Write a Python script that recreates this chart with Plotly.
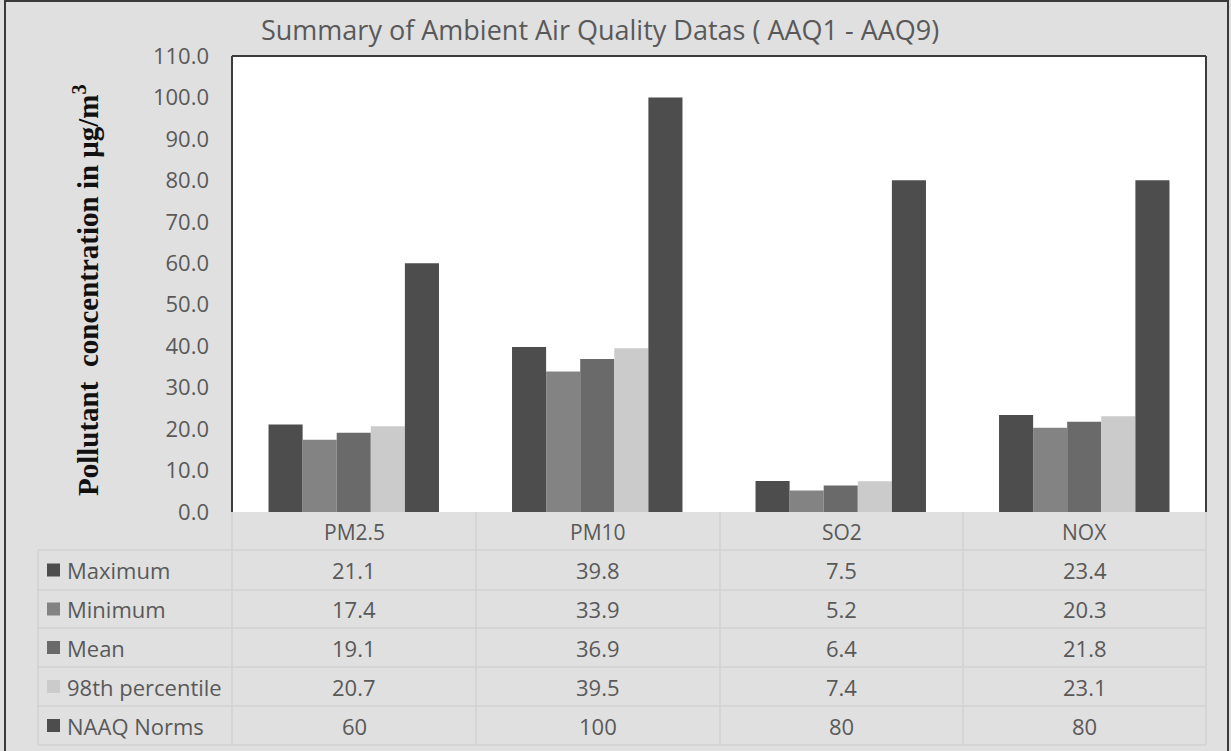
import plotly.graph_objects as go

categories = ["PM2.5", "PM10", "SO2", "NOX"]
series_names = ["Maximum", "Minimum", "Mean", "98th percentile", "NAAQ Norms"]
maximum = [21.1, 39.8, 7.5, 23.4]
minimum = [17.4, 33.9, 5.2, 20.3]
mean = [19.1, 36.9, 6.4, 21.8]
p98 = [20.7, 39.5, 7.4, 23.1]
naaq = [60, 100, 80, 80]
y_ticks = [0, 10, 20, 30, 40, 50, 60, 70, 80, 90, 100, 110]

series_values = [maximum, minimum, mean, p98, naaq]
colors = ["#4d4d4d", "#838383", "#6a6a6a", "#cbcbcb", "#4d4d4d"]

W, H = 1231, 751
FONT = "Open Sans"
TXT = "#595959"
BG = "#e0e0e0"
GRID = "#d2d2d2"

def px(x):
    return x / W

def py(y):
    return 1 - y / H

# layout geometry (pixels)
PL, PR, PT, PB = 232, 1206, 56, 512
col_edges = [232, 476, 720, 963, 1206]
row_edges = [512, 550, 590, 628, 667, 706, 745]
label_left = 38

fig = go.Figure()
for name, vals, c in zip(series_names, series_values, colors):
    fig.add_trace(go.Bar(x=categories, y=vals, name=name, marker=dict(color=c, line=dict(width=0)),
                         showlegend=False))

shapes = []
annotations = []

# outer frame
shapes.append(dict(type="rect", xref="paper", yref="paper", x0=px(5), x1=px(1228), y0=py(755), y1=py(1),
                   line=dict(color="#3a3a3a", width=2), layer="above"))

# table grid
line_style = dict(color=GRID, width=1.5)
for xe in col_edges:
    shapes.append(dict(type="line", xref="paper", yref="paper", x0=px(xe), x1=px(xe),
                       y0=py(row_edges[0]), y1=py(row_edges[-1]), line=line_style))
shapes.append(dict(type="line", xref="paper", yref="paper", x0=px(label_left), x1=px(label_left),
                   y0=py(row_edges[1]), y1=py(row_edges[-1]), line=line_style))
for i, ye in enumerate(row_edges[1:]):
    shapes.append(dict(type="line", xref="paper", yref="paper", x0=px(label_left), x1=px(col_edges[-1]),
                       y0=py(ye), y1=py(ye), line=line_style))

# plot border (left, top, right)
border = dict(color="#3c3c3c", width=2)
shapes.append(dict(type="line", xref="paper", yref="paper", x0=px(PL), x1=px(PL), y0=py(PB), y1=py(PT), line=border))
shapes.append(dict(type="line", xref="paper", yref="paper", x0=px(PL), x1=px(PR), y0=py(PT), y1=py(PT), line=border))
shapes.append(dict(type="line", xref="paper", yref="paper", x0=px(PR), x1=px(PR), y0=py(PB), y1=py(PT), line=border))

TSIZE = 22
for i, cat in enumerate(categories):
    cx = (col_edges[i] + col_edges[i + 1]) / 2
    cy = (row_edges[0] + row_edges[1]) / 2 + 1
    annotations.append(dict(xref="paper", yref="paper", x=px(cx), y=py(cy), text=cat, showarrow=False,
                            xanchor="center", yanchor="middle", font=dict(family=FONT, size=TSIZE - 1, color=TXT)))

def fmt(v):
    return str(v) if isinstance(v, int) else f"{v:.1f}"

for r, (name, vals, c) in enumerate(zip(series_names, series_values, colors)):
    cy = (row_edges[r + 1] + row_edges[r + 2]) / 2
    shapes.append(dict(type="rect", xref="paper", yref="paper", x0=px(47), x1=px(60),
                       y0=py(cy + 6.5), y1=py(cy - 6.5), fillcolor=c, line=dict(width=0)))
    annotations.append(dict(xref="paper", yref="paper", x=px(65), y=py(cy), text=name, showarrow=False,
                            xanchor="left", yanchor="middle", font=dict(family=FONT, size=TSIZE, color=TXT)))
    for i, v in enumerate(vals):
        cx = (col_edges[i] + col_edges[i + 1]) / 2
        annotations.append(dict(xref="paper", yref="paper", x=px(cx), y=py(cy), text=fmt(v), showarrow=False,
                                xanchor="center", yanchor="middle", font=dict(family=FONT, size=TSIZE, color=TXT)))

# y-axis title
annotations.append(dict(xref="paper", yref="paper", x=px(86), y=py(290),
                        text="<b>Pollutant  concentration in μg/m<sup>3</sup></b>",
                        showarrow=False, textangle=-90, xanchor="center", yanchor="middle",
                        font=dict(family="Liberation Serif", size=29, color="#111111")))
# chart title
annotations.append(dict(xref="paper", yref="paper", x=px(600), y=py(30),
                        text="Summary of Ambient Air Quality Datas ( AAQ1 - AAQ9)",
                        showarrow=False, xanchor="center", yanchor="middle",
                        font=dict(family=FONT, size=27, color=TXT)))

fig.update_layout(
    width=W, height=H,
    margin=dict(l=0, r=0, t=0, b=0, autoexpand=False),
    paper_bgcolor=BG, plot_bgcolor="white",
    barmode="group", bargap=0.3, bargroupgap=0,
    shapes=shapes, annotations=annotations,
    xaxis=dict(domain=[px(PL), px(PR)], showticklabels=False, showgrid=False, zeroline=False,
               showline=False, automargin=False),
    yaxis=dict(domain=[py(PB), py(PT)], range=[0, 110], tickvals=y_ticks, automargin=False,
               ticktext=[f"{t:.1f}" for t in y_ticks], showgrid=False, zeroline=False, showline=False,
               ticks="", ticklabelstandoff=22, tickfont=dict(family=FONT, size=22, color=TXT)),
)
fig.write_html("out.html", config={"displayModeBar": False},
               post_script="document.body.style.margin='0';document.body.style.overflow='hidden';")
